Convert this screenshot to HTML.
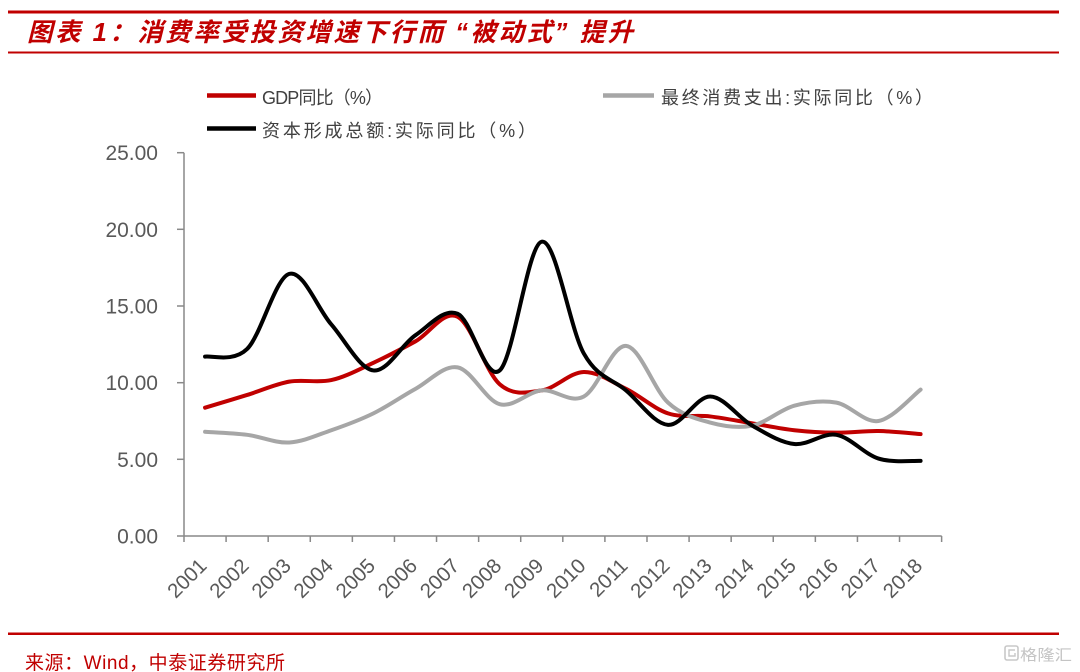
<!DOCTYPE html>
<html>
<head>
<meta charset="utf-8">
<style>
  html,body{margin:0;padding:0;background:#fff;}
  svg{display:block;}
  .cjk{font-family:"Liberation Sans","Noto Sans CJK SC",sans-serif;}
  .num{font-family:"Liberation Sans",sans-serif;}
</style>
</head>
<body>
<svg id="chart" width="1080" height="672" viewBox="0 0 1080 672" xmlns="http://www.w3.org/2000/svg">
  <rect x="0" y="0" width="1080" height="672" fill="#ffffff"/>
  <!-- title rules -->
  <rect x="8" y="10.5" width="1051" height="3" fill="#c00000"/>
  <rect x="8" y="51.5" width="1051" height="2" fill="#c00000"/>
  <text class="cjk" x="27" y="41" font-size="25.5" font-weight="bold" font-style="italic" fill="#c00000" textLength="606" lengthAdjust="spacing">图表 1：消费率受投资增速下行而 “被动式” 提升</text>

  <!-- legend -->
  <line x1="207" y1="95.5" x2="256" y2="95.5" stroke="#c00000" stroke-width="4.5"/>
  <text class="cjk" x="262" y="104" font-size="18" fill="#404040" textLength="121" lengthAdjust="spacing">GDP同比（%）</text>
  <line x1="603" y1="95.5" x2="654" y2="95.5" stroke="#a6a6a6" stroke-width="4.5"/>
  <text class="cjk" x="661" y="104" font-size="18" fill="#404040" textLength="272" lengthAdjust="spacing">最终消费支出:实际同比（%）</text>
  <line x1="207" y1="128.5" x2="256" y2="128.5" stroke="#000000" stroke-width="4.5"/>
  <text class="cjk" x="262" y="137" font-size="18" fill="#404040" textLength="274" lengthAdjust="spacing">资本形成总额:实际同比（%）</text>

  <!-- y axis -->
  <g stroke="#898989" stroke-width="1.5" fill="none">
    <line x1="184" y1="152.7" x2="184" y2="536"/>
    <line x1="177" y1="152.7" x2="184" y2="152.7"/>
    <line x1="177" y1="229.3" x2="184" y2="229.3"/>
    <line x1="177" y1="306" x2="184" y2="306"/>
    <line x1="177" y1="382.7" x2="184" y2="382.7"/>
    <line x1="177" y1="459.3" x2="184" y2="459.3"/>
    <line x1="177" y1="536" x2="184" y2="536"/>
    <line x1="184" y1="536" x2="941.7" y2="536"/>
  </g>
  <g id="xticks" stroke="#898989" stroke-width="1.5"></g>

  <g class="num" font-size="21" fill="#595959" text-anchor="end">
    <text x="158" y="160.2">25.00</text>
    <text x="158" y="236.8">20.00</text>
    <text x="158" y="313.5">15.00</text>
    <text x="158" y="390.2">10.00</text>
    <text x="158" y="466.8">5.00</text>
    <text x="158" y="543.5">0.00</text>
  </g>
  <g id="xlabels" class="num" font-size="20.5" fill="#595959" text-anchor="end"></g>

  <g id="series" fill="none" stroke-linecap="round" stroke-linejoin="round"></g>

  <!-- footer -->
  <rect x="8" y="632.5" width="1051" height="2.5" fill="#c00000"/>
  <text class="cjk" x="25" y="669" font-size="19" fill="#c00000" textLength="260" lengthAdjust="spacing">来源：Wind，中泰证券研究所</text>
  <!-- watermark -->
  <g>
    <rect x="1005" y="646" width="13" height="14" rx="2" fill="none" stroke="#c8c8c8" stroke-width="1.6"/>
    <path d="M1015 650 h-6 v6 h6 v-3" fill="none" stroke="#c8c8c8" stroke-width="1.4"/>
    <text class="cjk" x="1020" y="660" font-size="15" fill="#c4c4c4" textLength="52" lengthAdjust="spacingAndGlyphs">格隆汇</text>
  </g>
</svg>
<script>
(function(){
  var NS="http://www.w3.org/2000/svg";
  var W=42.09;
  function cx(i){return 184+W*(i+0.5);}
  function cy(v){return 536-v*15.33;}
  var tg=document.getElementById("xticks");
  for(var k=0;k<=18;k++){
    var x=184+W*k;
    var l=document.createElementNS(NS,"line");
    l.setAttribute("x1",x);l.setAttribute("x2",x);
    l.setAttribute("y1",536);l.setAttribute("y2",542);
    tg.appendChild(l);
  }
  var lg=document.getElementById("xlabels");
  for(var i=0;i<18;i++){
    var t=document.createElementNS(NS,"text");
    var ex=cx(i)+3, ey=567;
    t.setAttribute("transform","translate("+ex.toFixed(1)+","+ey+") rotate(-45)");
    t.setAttribute("x",0);t.setAttribute("y",0);
    t.textContent=String(2001+i);
    lg.appendChild(t);
  }
  var gdp=[8.37,9.2,10.07,10.17,11.3,12.7,14.3,9.9,9.5,10.7,9.6,8.0,7.8,7.35,6.9,6.74,6.85,6.65];
  var con=[6.8,6.6,6.1,6.9,8.0,9.6,11.0,8.6,9.5,9.1,12.4,8.7,7.4,7.2,8.5,8.7,7.5,9.55];
  var cap=[11.7,12.2,17.1,13.8,10.8,13.1,14.5,10.8,19.2,11.9,9.5,7.25,9.1,7.2,6.0,6.6,5.05,4.9];
  function path(d){
    var p=d.map(function(v,i){return [cx(i),cy(v)];});
    var s="M"+p[0][0].toFixed(2)+" "+p[0][1].toFixed(2);
    for(var i=0;i<p.length-1;i++){
      var p0=p[i-1]||p[i], p1=p[i], p2=p[i+1], p3=p[i+2]||p[i+1];
      var c1x=p1[0]+(p2[0]-p0[0])/6, c1y=p1[1]+(p2[1]-p0[1])/6;
      var c2x=p2[0]-(p3[0]-p1[0])/6, c2y=p2[1]-(p3[1]-p1[1])/6;
      s+=" C"+c1x.toFixed(2)+" "+c1y.toFixed(2)+" "+c2x.toFixed(2)+" "+c2y.toFixed(2)+" "+p2[0].toFixed(2)+" "+p2[1].toFixed(2);
    }
    return s;
  }
  var sg=document.getElementById("series");
  [[gdp,"#c00000"],[con,"#a6a6a6"],[cap,"#000000"]].forEach(function(a){
    var e=document.createElementNS(NS,"path");
    e.setAttribute("d",path(a[0]));
    e.setAttribute("stroke",a[1]);
    e.setAttribute("stroke-width","4");
    sg.appendChild(e);
  });
})();
</script>
</body>
</html>
